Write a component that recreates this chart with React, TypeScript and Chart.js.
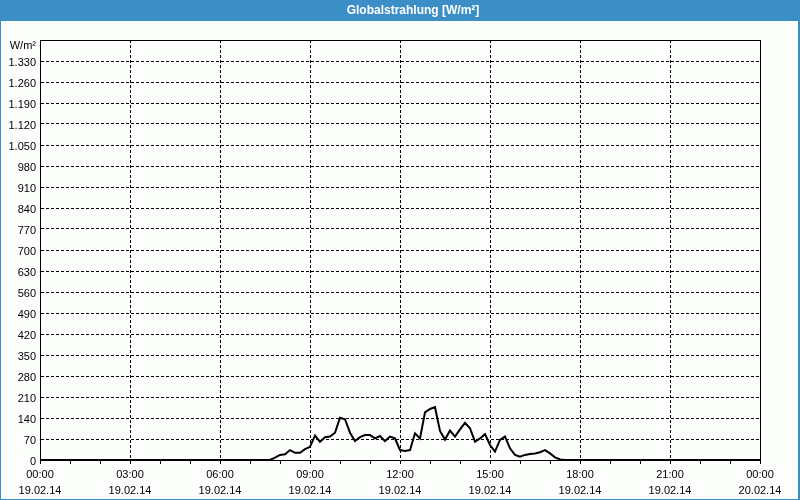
import React, { useEffect, useRef } from "react";
import { Chart, registerables } from "chart.js";

Chart.register(...registerables);

// ---- data ----
const times: string[] = [
  "00:00", "07:40", "07:50", "08:00", "08:10", "08:20", "08:30", "08:40", "08:50", "09:00",
  "09:10", "09:20", "09:30", "09:40", "09:50", "10:00", "10:10", "10:20", "10:30", "10:40",
  "10:50", "11:00", "11:10", "11:20", "11:30", "11:40", "11:50", "12:00", "12:10", "12:20",
  "12:30", "12:40", "12:50", "13:00", "13:10", "13:20", "13:30", "13:40", "13:50", "14:00",
  "14:10", "14:20", "14:30", "14:40", "14:50", "15:00", "15:10", "15:20", "15:30", "15:40",
  "15:50", "16:00", "16:10", "16:20", "16:30", "16:40", "16:50", "17:00", "17:10", "17:20",
  "17:30", "24:00",
];
const values: number[] = [
  0, 0, 8, 17, 19, 33, 24, 24, 36, 44,
  81, 61, 76, 78, 91, 141, 136, 91, 63, 76,
  83, 83, 72, 80, 63, 78, 72, 33, 30, 33,
  89, 72, 159, 170, 176, 97, 68, 98, 78, 102,
  124, 106, 61, 72, 86, 50, 28, 67, 78, 39,
  17, 11, 17, 20, 22, 26, 33, 22, 9, 2,
  0, 0,
];
const xTickTimes: string[] = ["00:00", "03:00", "06:00", "09:00", "12:00", "15:00", "18:00", "21:00", "00:00"];
const xTickDates: string[] = ["19.02.14", "19.02.14", "19.02.14", "19.02.14", "19.02.14", "19.02.14", "19.02.14", "19.02.14", "20.02.14"];
const yUnit = "W/m²";
const title = "Globalstrahlung [W/m²]";

const toHours = (t: string) => {
  const [h, m] = t.split(":").map(Number);
  return h + m / 60;
};

const fmtDE = (v: number) =>
  v >= 1000 ? `${Math.floor(v / 1000)}.${String(v % 1000).padStart(3, "0")}` : String(v);

const FONT = "'Liberation Sans', Arial, sans-serif";
const BLUE = "#3c8fc6";

const framePlugin = {
  id: "frame",
  beforeDraw(chart: any) {
    const { ctx, width, height } = chart;
    ctx.save();
    ctx.fillStyle = BLUE;
    ctx.fillRect(0, 0, width, height);
    ctx.fillStyle = "#fcfefc";
    ctx.fillRect(1, 21, width - 3, height - 22);
    ctx.fillStyle = "#ffffff";
    ctx.font = `bold 12px ${FONT}`;
    ctx.textAlign = "center";
    ctx.textBaseline = "middle";
    ctx.fillText(title, 413, 10.5);
    ctx.restore();
  },
  beforeDatasetsDraw(chart: any) {
    const { ctx, chartArea } = chart;
    ctx.save();
    ctx.strokeStyle = "#000";
    ctx.lineWidth = 1;
    ctx.beginPath();
    ctx.moveTo(chartArea.left + 0.5, chartArea.top + 0.5);
    ctx.lineTo(chartArea.right + 0.5, chartArea.top + 0.5);
    ctx.lineTo(chartArea.right + 0.5, chartArea.bottom + 0.5);
    ctx.stroke();
    ctx.fillStyle = "#000";
    ctx.font = `11px ${FONT}`;
    ctx.textAlign = "right";
    ctx.textBaseline = "middle";
    ctx.fillText(yUnit, chartArea.left - 4, chartArea.top + 6);
    ctx.restore();
  },
};

export default function App() {
  const ref = useRef<HTMLCanvasElement | null>(null);
  useEffect(() => {
    document.body.style.margin = "0";
    if (!ref.current) return;
    Chart.defaults.font.family = FONT;
    Chart.defaults.font.size = 11;
    Chart.defaults.color = "#000";
    const chart = new Chart(ref.current, {
      type: "line",
      data: {
        datasets: [
          {
            data: times.map((t, i) => ({ x: toHours(t), y: values[i] })),
            borderColor: "#000",
            borderWidth: 2,
            pointRadius: 0,
            tension: 0,
            fill: false,
            clip: 3,
          } as any,
        ],
      },
      options: {
        responsive: false,
        animation: false,
        layout: { padding: { top: 40, right: 40, left: 0, bottom: 0 } },
        plugins: { legend: { display: false }, tooltip: { enabled: false }, title: { display: false } },
        scales: {
          x: {
            type: "linear",
            min: 0,
            max: 24,
            afterFit: (s: any) => {
              s.height = 40;
            },
            ticks: {
              stepSize: 1,
              autoSkip: false,
              maxRotation: 0,
              padding: 3,
              font: { size: 11, lineHeight: 16 / 11 },
              callback: (v: any) => {
                const n = Number(v);
                if (n % 3 !== 0) return "";
                const i = n / 3;
                return [xTickTimes[i], xTickDates[i]];
              },
            },
            grid: {
              color: (c: any) => (c.tick && c.tick.value % 3 === 0 ? "#000" : "rgba(0,0,0,0)"),
              lineWidth: 1,
              tickLength: 4,
              tickColor: "#000",
            },
            border: { display: true, color: "#000", width: 1, dash: [3, 2] },
          },
          y: {
            min: 0,
            max: 1400,
            afterFit: (s: any) => {
              s.width = 40;
            },
            ticks: {
              stepSize: 70,
              padding: 4,
              labelOffset: 1.5,
              callback: (v: any) => (Number(v) >= 1400 ? "" : fmtDE(Number(v))),
            },
            grid: { color: "#000", lineWidth: 1, drawTicks: false },
            border: { display: true, color: "#000", width: 1, dash: [3, 2] },
          },
        },
      },
      plugins: [framePlugin],
    });
    return () => chart.destroy();
  }, []);
  return (
    <div style={{ width: 800, height: 500 }}>
      <canvas ref={ref} width={800} height={500} style={{ display: "block", width: 800, height: 500 }} />
    </div>
  );
}
